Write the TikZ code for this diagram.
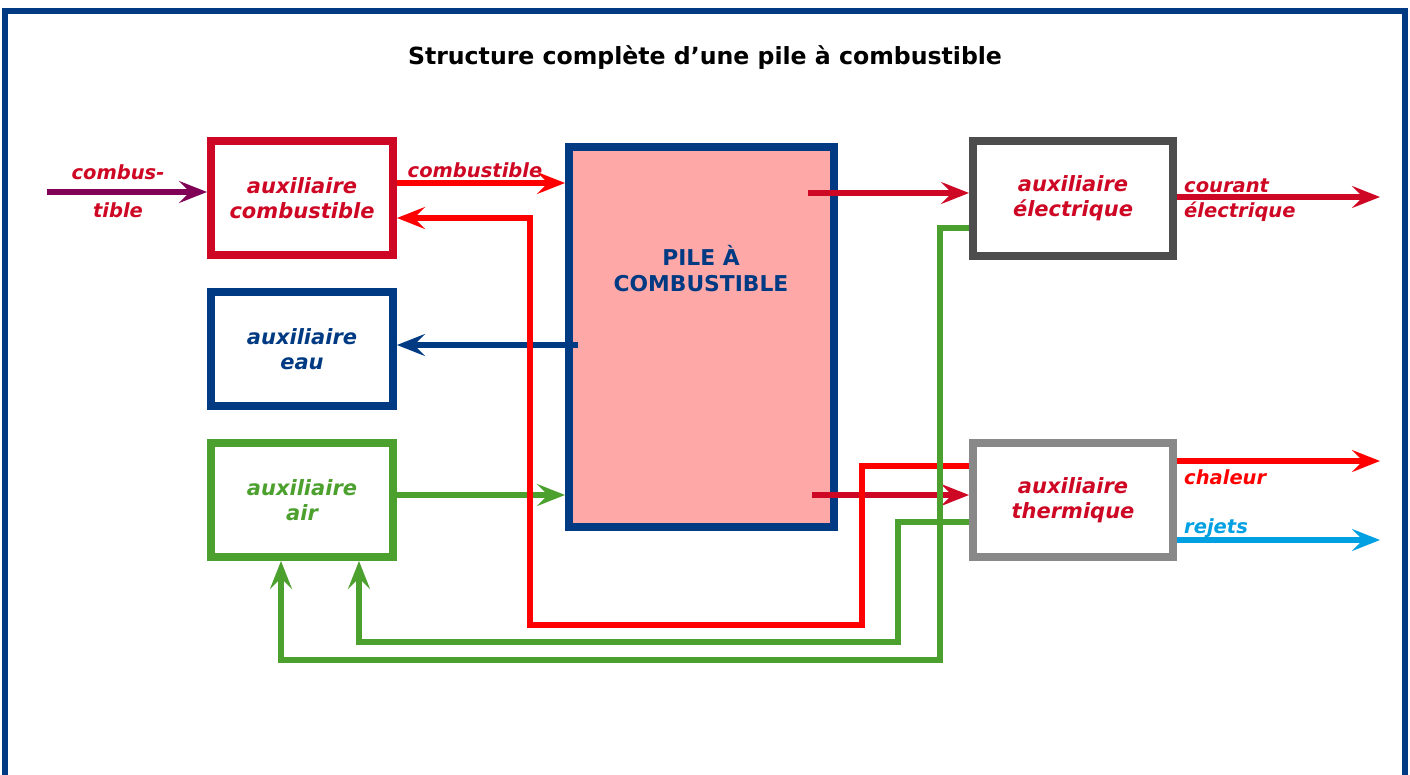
\documentclass[tikz,border=0pt]{standalone}
\usepackage{fontspec}
\setmainfont{DejaVu Sans}
\usetikzlibrary{arrows.meta}
\definecolor{crim}{RGB}{206,8,36}
\definecolor{bred}{RGB}{255,0,0}
\definecolor{dblue}{RGB}{0,58,130}
\definecolor{dgreen}{RGB}{76,160,46}
\definecolor{pinkf}{RGB}{255,168,168}
\definecolor{dgray}{RGB}{77,77,77}
\definecolor{mgray}{RGB}{136,136,136}
\definecolor{purp}{RGB}{128,0,88}
\definecolor{cyanb}{RGB}{0,160,227}
\begin{document}
\begin{tikzpicture}[x=1pt,y=-1pt,
  box/.style={draw, line width=8pt, fill=white, minimum width=182pt, minimum height=114pt,
    inner sep=0pt, align=center, font=\bfseries\itshape\fontsize{21}{25}\selectfont},
  conn/.style={line width=6pt, -{Stealth[length=28pt,width=22pt,inset=11pt]}},
  fb/.style={conn, line width=5.5pt},
  lbl/.style={font=\bfseries\itshape\fontsize{19.5}{25}\selectfont, inner sep=0pt, align=center}
]
\useasboundingbox (0,0) rectangle (1410,775);
% frame
\draw[dblue, line width=6pt] (5,775) -- (5,11) -- (1405,11) -- (1405,775);
% title
\node[font=\bfseries\fontsize{23.6}{28}\selectfont] (title) at (705,58) {Structure complète d’une pile à combustible};
% main block
\node[draw=dblue, fill=pinkf, line width=8pt, minimum width=265pt, minimum height=380pt, inner sep=0pt] (pile) at (701.5,337) {};
\node[text=dblue, font=\bfseries\fontsize{21.8}{26}\selectfont, align=center] (piletxt) at (701,269) {PILE À\\COMBUSTIBLE};
% auxiliaries
\node[box, draw=crim, text=crim] (ac) at (302,198) {auxiliaire\\combustible};
\node[box, draw=dblue, text=dblue] (ae) at (302,349) {auxiliaire\\eau};
\node[box, draw=dgreen, text=dgreen] (aa) at (302,500) {auxiliaire\\air};
\node[box, draw=dgray, text=crim, minimum width=200pt, minimum height=115pt] (ael) at (1073,198.5) {auxiliaire\\électrique};
\node[box, draw=mgray, text=crim, minimum width=200pt] (ath) at (1073,500) {auxiliaire\\thermique};
% free ends
\coordinate (cin) at (47,192);
\coordinate (eauout) at (578,345);
\coordinate (elout) at (808,193);
\coordinate (thout) at (812,495);
\coordinate (courant) at (1380,197);
\coordinate (chal) at (1380,461);
\coordinate (rej) at (1380,540);
% connectors
\draw[conn, purp] (cin) -- (ac.west |- cin);
\draw[conn, dblue] (eauout) -- (ae.east |- eauout);
\draw[conn, dgreen] (aa.east |- 0,495) -- (pile.west |- 0,495);
\draw[conn, crim] (elout) -- (ael.west |- elout);
\draw[conn, crim] (thout) -- (ath.west |- thout);
\draw[conn, bred] (ac.east |- 0,183) -- (pile.west |- 0,183);
\draw[conn, bred] (ath.west |- 0,466) -- (862,466) -- (862,625) -- (530,625) -- (530,218) -- (ac.east |- 0,218);
\draw[fb, dgreen] (ael.west |- 0,228) -- (940,228) -- (940,660) -- (281,660) -- (aa.south -| 281,0);
\draw[fb, dgreen] (ath.west |- 0,522) -- (898,522) -- (898,642) -- (359,642) -- (aa.south -| 359,0);
\draw[conn, crim] (ael.east |- courant) -- (courant);
\draw[conn, bred] (ath.east |- chal) -- (chal);
\draw[conn, cyanb] (ath.east |- rej) -- (rej);
% labels
\node[lbl, text=crim, font=\bfseries\itshape\fontsize{19.5}{38}\selectfont] (lcin) at (118,191) {combus-\\tible};
\node[lbl, text=crim] (lcomb) at (475,170) {combustible};
\node[lbl, text=crim, anchor=west, align=left] (lcour) at (1184,200) {courant\\électrique};
\node[lbl, text=bred, anchor=west] (lchal) at (1184,477) {chaleur};
\node[lbl, text=cyanb, anchor=west] (lrej) at (1184,528) {rejets};
\end{tikzpicture}
\end{document}
